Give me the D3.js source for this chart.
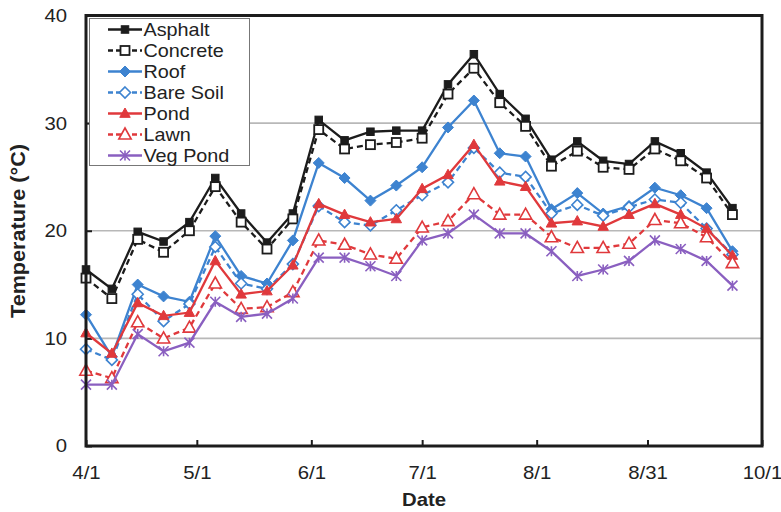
<!DOCTYPE html>
<html>
<head>
<meta charset="utf-8">
<script src="https://cdn.jsdelivr.net/npm/d3@7/dist/d3.min.js"></script>
<style>
  html, body { margin: 0; padding: 0; background: #fff; }
  svg { display: block; font-family: "Liberation Sans", Arial, sans-serif; }
</style>
</head>
<body>
<svg id="chart" width="781" height="512"></svg>
<script>
// Weekly sampling dates (month/day)
const dates = ["4/1","4/8","4/15","4/22","4/29","5/6","5/13","5/20","5/27","6/3","6/10","6/17","6/24",
               "7/1","7/8","7/15","7/22","7/29","8/5","8/12","8/19","8/26","9/2","9/9","9/16","9/23"];

// Mean temperature (°C) per surface
const asphalt  = [16.4,14.6,19.9,19.0,20.8,24.9,21.6,18.9,21.6,30.3,28.4,29.2,29.3,29.3,33.6,36.4,32.7,30.4,26.6,28.3,26.5,26.2,28.3,27.2,25.4,22.1];
const concrete = [15.6,13.7,19.2,18.0,20.0,24.1,20.8,18.3,21.1,29.4,27.6,28.0,28.2,28.6,32.7,35.1,31.9,29.7,26.0,27.4,25.9,25.7,27.6,26.5,24.9,21.5];
const roof     = [12.2,8.3,15.0,13.9,13.4,19.5,15.8,15.1,19.1,26.3,24.9,22.8,24.2,25.9,29.6,32.1,27.2,26.9,22.0,23.5,21.6,22.3,24.0,23.3,22.1,18.1];
const bareSoil = [9.0,8.0,14.1,11.6,13.2,18.5,15.1,14.6,16.9,22.3,20.8,20.5,21.9,23.3,24.5,27.7,25.4,25.0,21.6,22.4,21.4,22.2,22.9,22.6,20.2,17.8];
const pond     = [10.5,8.6,13.3,12.1,12.4,17.2,14.1,14.4,16.8,22.5,21.5,20.8,21.1,23.9,25.2,28.0,24.6,24.1,20.7,20.9,20.4,21.5,22.5,21.5,20.2,17.7];
const lawn     = [7.0,6.3,11.5,10.0,11.0,15.1,12.75,12.9,14.3,19.1,18.7,17.8,17.4,20.3,20.9,23.4,21.5,21.5,19.4,18.4,18.4,18.8,21.0,20.7,19.4,17.0];
const vegPond  = [5.7,5.7,10.4,8.8,9.6,13.4,12.0,12.3,13.7,17.5,17.5,16.7,15.8,19.1,19.75,21.5,19.75,19.75,18.1,15.8,16.4,17.2,19.1,18.3,17.2,14.9];

// Axis ticks
const xTickLabels = ["4/1","5/1","6/1","7/1","8/1","8/31","10/1"];
const yTicks = [0,10,20,30,40];

const seriesNames = ["Asphalt","Concrete","Roof","Bare Soil","Pond","Lawn","Veg Pond"];
const seriesValues = [asphalt, concrete, roof, bareSoil, pond, lawn, vegPond];

const BLACK = "#1c1c1c", BLUE = "#3d83d0", RED = "#e0393c", PURPLE = "#8a5fc0";
const styles = [
  {color: BLACK,  dash: null,  marker: "square",   filled: true},
  {color: BLACK,  dash: "6,4", marker: "square",   filled: false},
  {color: BLUE,   dash: null,  marker: "diamond",  filled: true},
  {color: BLUE,   dash: "6,4", marker: "diamond",  filled: false},
  {color: RED,    dash: null,  marker: "triangle", filled: true},
  {color: RED,    dash: "6,4", marker: "triangle", filled: false},
  {color: PURPLE, dash: null,  marker: "star",     filled: true}
];

const parse = s => {
  const [m, d] = s.split("/").map(Number);
  return new Date(Date.UTC(2013, m - 1, d));
};

// Widen text glyphs slightly (the labels use a broad sans face)
function widen(sel, k) {
  sel.each(function () {
    const w = this.getComputedTextLength();
    d3.select(this).attr("textLength", w * k).attr("lengthAdjust", "spacingAndGlyphs");
  });
}

const svg = d3.select("#chart");
const plotL = 86, plotR = 762, plotT = 15.5, plotB = 446;

const x = d3.scaleUtc()
  .domain([parse("4/1"), parse("10/1")])
  .range([plotL, plotR]);
const y = d3.scaleLinear().domain([0, 40]).range([plotB, plotT]);

// Horizontal gridlines
svg.append("g")
  .selectAll("line")
  .data(yTicks.filter(t => t > 0 && t < 40))
  .join("line")
  .attr("x1", plotL).attr("x2", plotR)
  .attr("y1", d => y(d)).attr("y2", d => y(d))
  .attr("stroke", "#b8b8b8").attr("stroke-width", 1.6);

// Y axis (ticks point inward)
const yAxis = svg.append("g")
  .attr("transform", `translate(${plotL},0)`)
  .call(d3.axisLeft(y).tickValues(yTicks).tickSize(-6).tickPadding(19));
yAxis.select(".domain").remove();
yAxis.selectAll(".tick line").attr("stroke", BLACK).attr("stroke-width", 2);
yAxis.selectAll(".tick text").attr("font-size", 18.5).attr("fill", "#222")
  .attr("font-family", "Liberation Sans, Arial, sans-serif").call(widen, 1.1);

// X axis (ticks point inward)
const xAxis = svg.append("g")
  .attr("transform", `translate(0,${plotB})`)
  .call(d3.axisBottom(x).tickValues(xTickLabels.map(parse))
        .tickFormat((d, i) => xTickLabels[i]).tickSize(-6).tickPadding(20));
xAxis.select(".domain").remove();
xAxis.selectAll(".tick line").attr("stroke", BLACK).attr("stroke-width", 2);
xAxis.selectAll(".tick text").attr("font-size", 18.5).attr("fill", "#222")
  .attr("font-family", "Liberation Sans, Arial, sans-serif").call(widen, 1.1);

// Marker drawing helper
function drawMarker(g, type, cx, cy, color, filled) {
  const fill = filled ? color : "#fff";
  if (type === "square") {
    const s = filled ? 7.5 : 9;
    g.append("rect").attr("x", cx - s / 2).attr("y", cy - s / 2).attr("width", s).attr("height", s)
      .attr("fill", fill).attr("stroke", color).attr("stroke-width", filled ? 1 : 1.8);
  } else if (type === "diamond") {
    const r = 5.5;
    g.append("path").attr("d", `M${cx},${cy - r}L${cx + r},${cy}L${cx},${cy + r}L${cx - r},${cy}Z`)
      .attr("fill", fill).attr("stroke", color).attr("stroke-width", filled ? 1 : 1.6);
  } else if (type === "triangle") {
    const r = filled ? 5.5 : 6.5;
    g.append("path").attr("d", `M${cx},${cy - r}L${cx + r * 0.95},${cy + r * 0.7}L${cx - r * 0.95},${cy + r * 0.7}Z`)
      .attr("fill", fill).attr("stroke", color).attr("stroke-width", filled ? 1 : 1.6);
  } else if (type === "star") {
    const r = 5;
    g.append("path")
      .attr("d", `M${cx - r},${cy - r}L${cx + r},${cy + r}M${cx - r},${cy + r}L${cx + r},${cy - r}M${cx},${cy - r}L${cx},${cy + r}`)
      .attr("fill", "none").attr("stroke", color).attr("stroke-width", 1.6);
  }
}

// Series lines and markers
const line = d3.line().x(d => x(d.date)).y(d => y(d.value));
seriesValues.forEach((vals, si) => {
  const st = styles[si];
  const pts = vals.map((v, i) => ({date: parse(dates[i]), value: v}));
  const g = svg.append("g");
  g.append("path").datum(pts).attr("d", line)
    .attr("fill", "none").attr("stroke", st.color).attr("stroke-width", 2.3)
    .attr("stroke-dasharray", st.dash);
  pts.forEach(p => drawMarker(g, st.marker, x(p.date), y(p.value), st.color, st.filled));
});

// Plot frame
svg.append("rect")
  .attr("x", plotL).attr("y", plotT).attr("width", plotR - plotL).attr("height", plotB - plotT)
  .attr("fill", "none").attr("stroke", BLACK).attr("stroke-width", 3);

// Legend
const lg = svg.append("g");
lg.append("rect").attr("x", 89.5).attr("y", 18.5).attr("width", 160).attr("height", 147)
  .attr("fill", "#fff").attr("stroke", "#777").attr("stroke-width", 1);
seriesNames.forEach((name, i) => {
  const st = styles[i];
  const cy = 29.5 + i * 21;
  lg.append("line").attr("x1", 108).attr("x2", 142).attr("y1", cy).attr("y2", cy)
    .attr("stroke", st.color).attr("stroke-width", 2.3).attr("stroke-dasharray", st.dash ? "5,3" : null);
  drawMarker(lg, st.marker, 125, cy, st.color, st.filled);
  lg.append("text").attr("x", 143.5).attr("y", cy).attr("dy", "0.35em")
    .attr("font-size", 18.5).attr("fill", "#222").text(name).call(widen, 1.07);
});

// Axis titles
svg.append("text").attr("x", 424).attr("y", 506).attr("text-anchor", "middle")
  .attr("font-size", 18.5).attr("font-weight", "bold").attr("fill", "#222").text("Date").call(widen, 1.1);
svg.append("text").attr("transform", "translate(25,231) rotate(-90)").attr("text-anchor", "middle")
  .attr("font-size", 20).attr("font-weight", "bold").attr("fill", "#222").text("Temperature (°C)").call(widen, 1.08);
</script>
</body>
</html>
